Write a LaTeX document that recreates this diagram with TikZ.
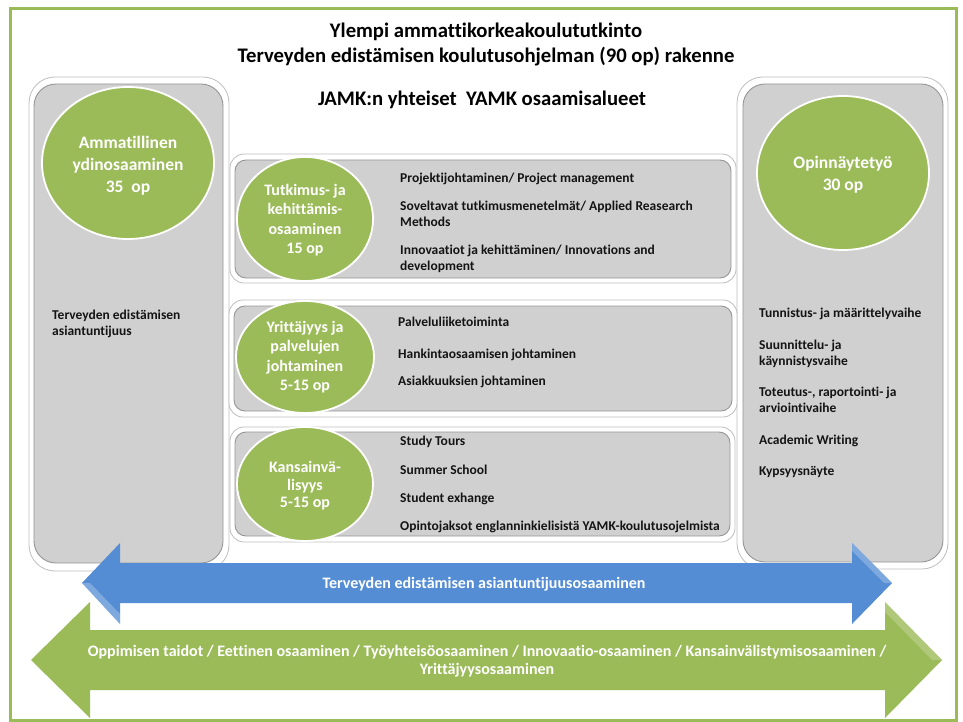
\documentclass[tikz,border=0pt]{standalone}
\usepackage{fontspec}
\setmainfont{Carlito}[Ligatures=CommonOff]
\definecolor{frameg}{RGB}{155,187,89}
\definecolor{circg}{RGB}{155,187,89}
\definecolor{boxgray}{RGB}{208,208,208}
\definecolor{boxedge}{RGB}{150,150,150}
\definecolor{shadowc}{RGB}{190,190,190}
\definecolor{arrblue}{RGB}{84,141,212}
\definecolor{arrgreen}{RGB}{155,187,89}
\definecolor{txt}{RGB}{20,20,20}
\tikzset{
  outerbox/.style={fill=white,draw=shadowc,line width=0.8pt,rounded corners=26pt},
  innerbox/.style={fill=boxgray,draw=boxedge,line width=0.9pt,rounded corners=22pt},
  outerrow/.style={fill=white,draw=shadowc,line width=0.8pt,rounded corners=14pt},
  innerrow/.style={fill=boxgray,draw=boxedge,line width=0.9pt,rounded corners=11pt},
  greencirc/.style={ellipse,fill=circg,draw=white,line width=1.8pt,inner sep=0pt},
  circtext/.style={text=white,font=\bfseries\fontsize{16}{19.5}\selectfont,align=center,inner sep=0pt},
  bigcirctext/.style={text=white,font=\bfseries\fontsize{17.5}{22}\selectfont,align=center,inner sep=0pt},
  item/.style={anchor=west,inner sep=0pt,text=txt,font=\bfseries\fontsize{13.5}{15}\selectfont,text height=0.72em,text depth=0.2em},
  titletext/.style={text=black,font=\bfseries\fontsize{20.7}{24}\selectfont,inner sep=0pt,text height=0.72em,text depth=0.2em},
  arrowtext/.style={text=white,font=\bfseries\fontsize{16}{18}\selectfont,align=center,inner sep=0pt}
}
\usetikzlibrary{shapes.geometric}
\begin{document}
\begin{tikzpicture}[x=1pt,y=-1pt]
\useasboundingbox (0,0) rectangle (963,722);
\fill[white] (0,0) rectangle (963,722);
% frame
\draw[frameg,line width=3pt] (10,9) rectangle (956,720);
% titles
\node[titletext] (t1) at (486,35) {Ylempi ammattikorkeakoulututkinto};
\node[titletext] (t2) at (486,60) {Terveyden edistämisen koulutusohjelman (90 op) rakenne};
\node[titletext] (t3) at (482,103) {JAMK:n yhteiset\ \ YAMK osaamisalueet};
% left column
\draw[outerbox] (29,77) rectangle (229,571);
\draw[innerbox] (34,84) rectangle (223,563);
% right column
\draw[outerbox] (737,77) rectangle (948,569);
\draw[innerbox] (743,84) rectangle (943,562);
% middle rows
\draw[outerrow] (230,154) rectangle (736,283);
\draw[innerrow] (235,160) rectangle (731,278);
\draw[outerrow] (229,300) rectangle (737,417);
\draw[innerrow] (234,306) rectangle (732,411);
\draw[outerrow] (230,427) rectangle (735,542);
\draw[innerrow] (235,432) rectangle (730,536);
% big circles
\node[greencirc,minimum width=172pt,minimum height=152pt] (c0) at (128,163) {};
\node[bigcirctext] (c0t) at (128,166) {Ammatillinen\\ydinosaaminen\\35\ \ op};
\node[greencirc,minimum width=172pt,minimum height=154pt] (c4) at (843,173) {};
\node[bigcirctext] (c4t) at (843,175) {Opinnäytetyö\\30 op};
% row circles
\node[greencirc,minimum width=136pt,minimum height=124pt] (c1) at (305,219) {};
\node[circtext] (c1t) at (305,220) {Tutkimus- ja\\kehittämis-\\osaaminen\\15 op};
\node[greencirc,minimum width=138pt,minimum height=112pt] (c2) at (305,357) {};
\node[circtext] (c2t) at (305,357) {Yrittäjyys ja\\palvelujen\\johtaminen\\5-15 op};
\node[greencirc,minimum width=136pt,minimum height=114pt] (c3) at (305,484) {};
\node[circtext,font=\bfseries\fontsize{16}{17.5}\selectfont] (c3t) at (305,486) {Kansainvä-\\lisyys\\5-15 op};
% left column text
\node[item] (l1) at (52,317) {Terveyden edistämisen};
\node[item] (l2) at (52,333) {asiantuntijuus};
% row 1 items
\node[item] (a1) at (400,180) {Projektijohtaminen/ Project management};
\node[item] (a2) at (400,208) {Soveltavat tutkimusmenetelmät/ Applied Reasearch};
\node[item] (a3) at (400,224) {Methods};
\node[item] (a4) at (400,252) {Innovaatiot ja kehittäminen/ Innovations and};
\node[item] (a5) at (400,268) {development};
% row 2 items
\node[item] (b1) at (398,324) {Palveluliiketoiminta};
\node[item] (b2) at (398,356) {Hankintaosaamisen johtaminen};
\node[item] (b3) at (398,383) {Asiakkuuksien johtaminen};
% row 3 items
\node[item] (d1) at (400,443) {Study Tours};
\node[item] (d2) at (400,472) {Summer School};
\node[item] (d3) at (400,500) {Student exhange};
\node[item] (d4) at (400,528) {Opintojaksot englanninkielisistä YAMK-koulutusojelmista};
% right column items
\node[item] (r1) at (759,315) {Tunnistus- ja määrittelyvaihe};
\node[item] (r2) at (759,347) {Suunnittelu- ja};
\node[item] (r3) at (759,363) {käynnistysvaihe};
\node[item] (r4) at (759,394) {Toteutus-, raportointi- ja};
\node[item] (r5) at (759,410) {arviointivaihe};
\node[item] (r6) at (759,442) {Academic Writing};
\node[item] (r7) at (759,473) {Kypsyysnäyte};
% blue double arrow
\fill[arrblue] (82,583) -- (120,543) -- (120,563) -- (852,563) -- (852,543) -- (892,583)
  -- (852,624) -- (852,603) -- (120,603) -- (120,624) -- cycle;
\fill[white,opacity=0.25] (82,583) -- (120,624) -- (120,614) -- (90,583) -- cycle;
\fill[white,opacity=0.25] (852,543) -- (892,583) -- (884,583) -- (852,551) -- cycle;
\node[arrowtext] (bt) at (484,584) {Terveyden edistämisen asiantuntijuusosaaminen};
% green double arrow
\fill[arrgreen] (31,660) -- (90,602) -- (90,630) -- (885,630) -- (885,602) -- (942,660)
  -- (885,718) -- (885,690) -- (90,690) -- (90,718) -- cycle;
\fill[white,opacity=0.2] (885,602) -- (942,660) -- (932,660) -- (885,612) -- cycle;
\node[arrowtext] (gt) at (487,661) {Oppimisen taidot / Eettinen osaaminen / Työyhteisöosaaminen / Innovaatio-osaaminen / Kansainvälistymisosaaminen /\\Yrittäjyysosaaminen};
\end{tikzpicture}
\end{document}
